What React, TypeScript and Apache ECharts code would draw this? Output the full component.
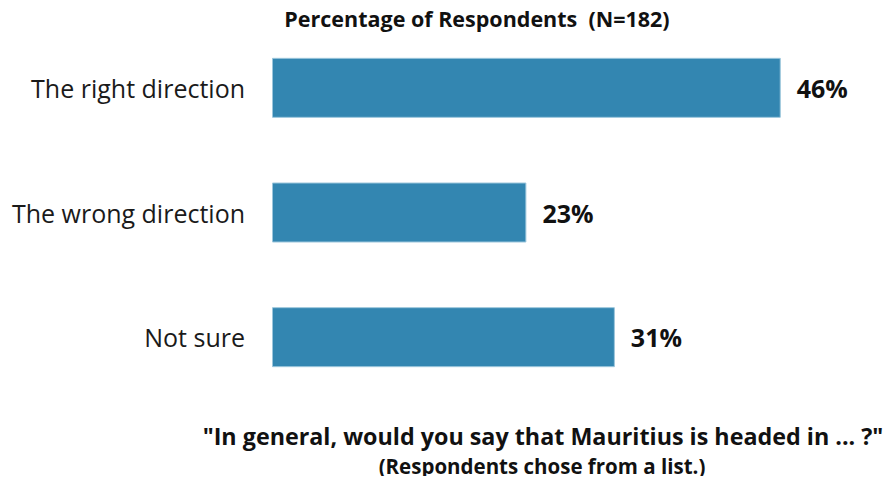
import React, { useEffect, useRef } from "react";
import * as echarts from "echarts";

const categories = ["The right direction", "The wrong direction", "Not sure"];
const values = [46, 23, 31];
const titleText = "Percentage of Respondents  (N=182)";
const questionText = "\"In general, would you say that Mauritius is headed in ... ?\"";
const noteText = "(Respondents chose from a list.)";

const FONT = "'Open Sans', Lato, sans-serif";

export default function App() {
  const ref = useRef<HTMLDivElement>(null);
  useEffect(() => {
    if (!ref.current) return;
    const chart = echarts.init(ref.current, undefined, { renderer: "svg" });
    chart.setOption({
      animation: false,
      backgroundColor: "#ffffff",
      grid: { left: 272, right: 70, top: 25.5, bottom: 84.5, containLabel: false },
      xAxis: {
        type: "value",
        min: 0,
        max: 50,
        show: false,
      },
      yAxis: {
        type: "category",
        data: categories,
        inverse: true,
        axisLine: { show: false },
        axisTick: { show: false },
        splitLine: { show: false },
        axisLabel: {
          margin: 27,
          fontSize: 25,
          fontFamily: FONT,
          color: "#1a1a1a",
        },
      },
      series: [
        {
          type: "bar",
          data: values,
          barWidth: 60,
          itemStyle: { color: "#3386B1", borderColor: "#9cc6dc", borderWidth: 1 },
          label: {
            show: true,
            position: "right",
            distance: 16,
            formatter: "{c}%",
            fontSize: 25,
            fontWeight: "bold",
            fontFamily: FONT,
            color: "#111111",
          },
        },
      ],
      graphic: [
        {
          type: "text",
          x: 477,
          y: 18,
          style: {
            text: titleText,
            fontSize: 21.5,
            fontWeight: "bold",
            fontFamily: FONT,
            fill: "#111111",
            textAlign: "center",
            textVerticalAlign: "middle",
          },
        },
        {
          type: "text",
          x: 543,
          y: 436,
          style: {
            text: questionText,
            fontSize: 23.3,
            fontWeight: "bold",
            fontFamily: FONT,
            fill: "#111111",
            textAlign: "center",
            textVerticalAlign: "middle",
          },
        },
        {
          type: "text",
          x: 542,
          y: 466,
          style: {
            text: noteText,
            fontSize: 20.5,
            fontWeight: "bold",
            fontFamily: FONT,
            fill: "#111111",
            textAlign: "center",
            textVerticalAlign: "middle",
          },
        },
      ],
    });
    return () => chart.dispose();
  }, []);
  return <div ref={ref} style={{ width: 895, height: 484, margin: -8 }} />;
}
